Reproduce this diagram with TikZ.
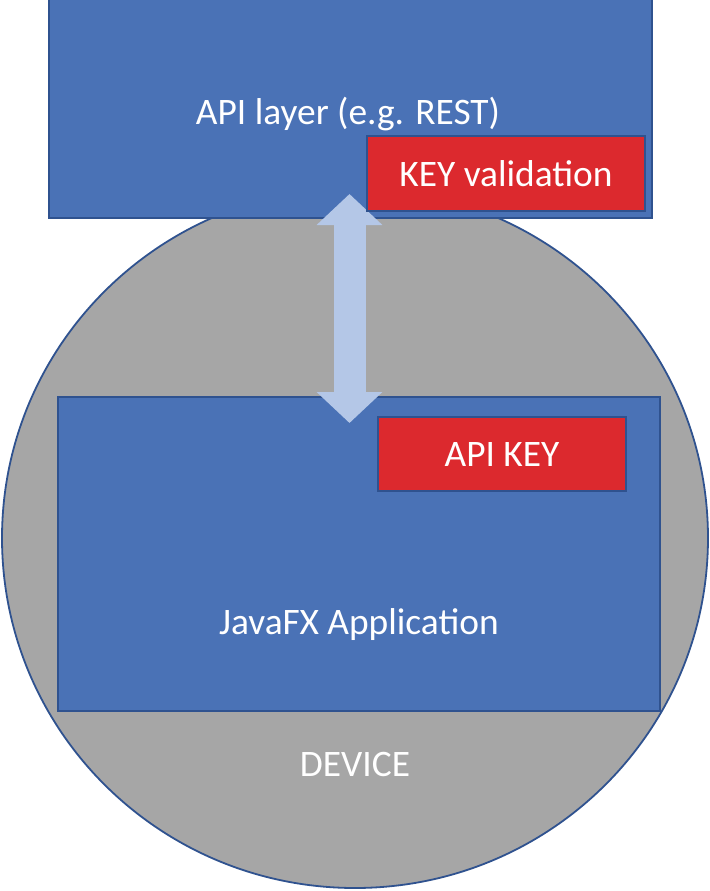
\documentclass[tikz,border=0pt]{standalone}
\usepackage{fontspec}
\setmainfont{Carlito}
\usepackage{tikz}
\usetikzlibrary{shapes.geometric,arrows.meta,positioning}
\definecolor{boxblue}{HTML}{4A72B6}
\definecolor{edgeblue}{HTML}{2F528F}
\definecolor{keyred}{HTML}{DC292E}
\definecolor{devicegray}{HTML}{A6A6A6}
\definecolor{arrowblue}{HTML}{B4C7E7}

\tikzset{
    layerbox/.style={draw=edgeblue, fill=boxblue, line width=0.75pt, inner sep=0pt},
    keybox/.style={draw=edgeblue, fill=keyred, line width=0.75pt, inner sep=0pt},
    whitetext/.style={text=white, font=\fontsize{18.7}{22}\selectfont}
}

\begin{document}
\begin{tikzpicture}[x=0.5pt, y=-0.5pt]
        \useasboundingbox (0,0) rectangle (710,891);

        % Device
        \node[ellipse, draw=edgeblue, fill=devicegray, line width=0.9pt, minimum width=353pt, minimum height=350pt, inner sep=0pt] at (355,538) (device) {};
        \node[whitetext] at (355,764) (devicelabel) {DEVICE};

        % API layer
        \node[layerbox, minimum width=301.5pt, minimum height=110pt] at (350.5,108) (api) {};
        \node[whitetext] at (348,114) (apiname) {API layer (e.g. REST)};

        % JavaFX application
        \node[layerbox, minimum width=301pt, minimum height=157pt] at (359,554) (app) {};
        \node[whitetext] at (359,625) (appname) {JavaFX Application};

        % Request / response
        \coordinate (arrtop) at (349.5,194);
        \coordinate (arrbot) at (349.5,423);
        \draw[arrowblue, line width=16pt, {Triangle[width=32pt,length=15.5pt]}-{Triangle[width=32pt,length=15.5pt]}] (arrtop) -- (arrbot);

        % Keys
        \node[keybox, whitetext, minimum width=139pt, minimum height=37.5pt] at (506,173.5) (keycheck) {KEY validation};
        \node[keybox, whitetext, minimum width=124pt, minimum height=37pt] at (502,454) (apikey) {API KEY};

    \end{tikzpicture}
\end{document}
